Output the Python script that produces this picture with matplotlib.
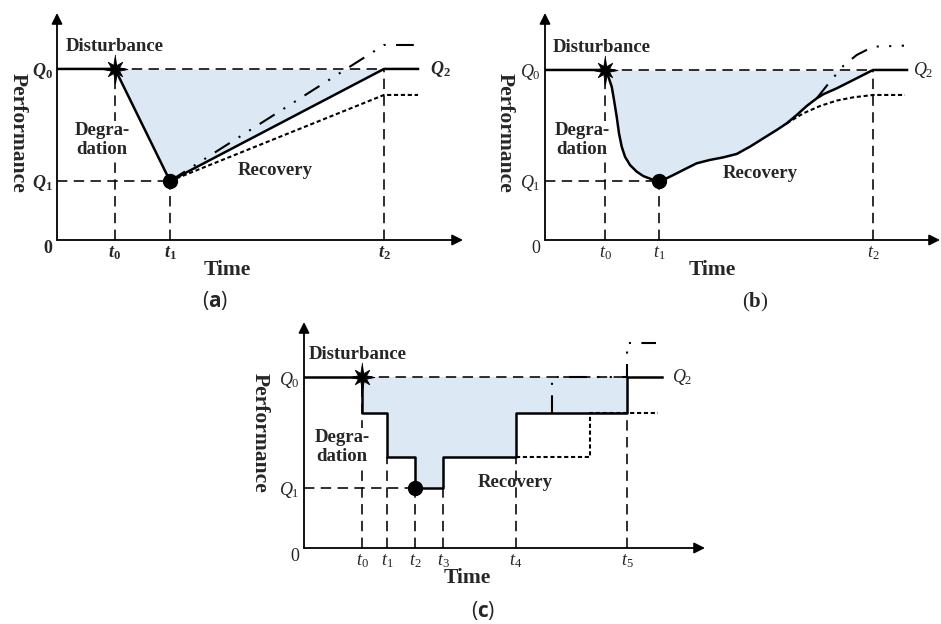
import matplotlib.pyplot as plt
import numpy as np

plt.rcParams['font.family'] = ['Liberation Serif', 'DejaVu Serif']
plt.rcParams['mathtext.fontset'] = 'custom'
plt.rcParams['mathtext.rm'] = 'Liberation Serif'
plt.rcParams['mathtext.it'] = 'Liberation Serif:italic'
plt.rcParams['mathtext.bf'] = 'Liberation Serif:bold'
plt.rcParams['mathtext.bfit'] = 'Liberation Serif:bold:italic'
plt.rcParams['mathtext.sf'] = 'Open Sans:bold'

FILL = '#dce9f4'
TXT = '#262626'

# ---------------- panel (a): linear degradation / recovery ----------------
a_times = [5.8, 11.3, 32.7]              # t0, t1, t2
a_q = [1.0, 0.345]                       # Q0, Q1
a_solid_x = [0, 5.8, 11.3, 32.7, 36.1]
a_solid_y = [1.0, 1.0, 0.345, 1.0, 1.0]
a_over_x = [11.3, 32.7, 36.1]            # recovery above Q0 (dash-dot)
a_over_y = [0.345, 1.14, 1.14]
a_under_x = [11.3, 32.7, 36.1]           # recovery below Q0 (dotted)
a_under_y = [0.345, 0.848, 0.848]

# ---------------- panel (b): curved degradation / recovery ----------------
b_times = [6.0, 11.4, 32.8]
b_q = [1.0, 0.347]
b_curve_x = [0, 6.0, 6.33, 6.67, 6.9, 7.17, 7.4, 7.67, 8.0, 8.5, 9.17, 9.83,
             10.67, 11.4, 12.17, 13.17, 14.17, 15.17, 16.5, 17.83, 19.17,
             20.5, 21.83, 23.17, 24.17, 25.17, 26.17, 27.17, 27.83, 29.17,
             30.83, 32.8, 36.2]
b_curve_y = [1.0, 1.0, 0.961, 0.902, 0.824, 0.725, 0.627, 0.549, 0.49, 0.441,
             0.402, 0.376, 0.357, 0.347, 0.363, 0.392, 0.422, 0.451, 0.471,
             0.486, 0.506, 0.549, 0.598, 0.647, 0.686, 0.735, 0.788, 0.833,
             0.857, 0.892, 0.941, 1.0, 1.0]
b_over_x = [27.17, 28.5, 29.83, 31.17, 32.8, 35.9]
b_over_y = [0.833, 0.931, 1.024, 1.088, 1.137, 1.143]
b_under_x = [24.17, 25.83, 27.5, 29.17, 30.83, 32.8, 36.0]
b_under_y = [0.686, 0.745, 0.788, 0.82, 0.839, 0.853, 0.853]

# ---------------- panel (c): stepwise degradation / recovery ----------------
c_times = [5.8, 8.3, 11.1, 13.9, 21.2, 32.3]   # t0..t5
c_q = [1.0, 0.351]
c_lvl = [0.789, 0.532]                          # intermediate levels
c_step_x = [0, 5.8, 5.8, 8.3, 8.3, 11.1, 11.1, 13.9, 13.9, 21.2, 21.2, 32.3,
            32.3, 35.8]
c_step_y = [1.0, 1.0, 0.789, 0.789, 0.532, 0.532, 0.351, 0.351, 0.532, 0.532,
            0.789, 0.789, 1.0, 1.0]
c_over_x = [24.8, 24.8, 32.3, 32.3, 35.2]
c_over_y = [0.789, 1.0, 1.0, 1.199, 1.199]
c_under_x = [21.2, 28.6, 28.6, 35.4]
c_under_y = [0.532, 0.532, 0.789, 0.789]

DASH = (0, (6.5, 4))
DASHDOT = (0, (8.5, 5, 1, 5, 1, 5))
DOTTED = (0, (2, 1.3))

# spiky 8-point star marker outline
ang = np.linspace(np.pi / 2, np.pi / 2 + 2 * np.pi, 17)[:-1]
rad = np.array([1.0, 0.3, 0.7, 0.3, 0.85, 0.3, 0.7, 0.3] * 2)
STAR = list(zip(rad * np.cos(ang), rad * np.sin(ang)))


def frame(ax, xmax, ymax):
    ax.set_xlim(0, xmax)
    ax.set_ylim(0, ymax)
    for s in ax.spines.values():
        s.set_visible(False)
    ax.set_facecolor('none')
    for xy in [(xmax, 0), (0, ymax)]:
        ax.annotate('', xy=xy, xytext=(0, 0), annotation_clip=False,
                    arrowprops=dict(arrowstyle='-|>', lw=1.3, color='k',
                                    mutation_scale=16, shrinkA=0, shrinkB=0))


def labels(ax, times, qs, bold, q2x, xlab, dist, degr, reco, perf, cap):
    if bold:
        tl = [r'$\mathbfit{t}_{\mathbf{%d}}$' % i for i in range(len(times))]
        ql = [r'$\mathbfit{Q}_{\mathbf{%d}}$' % i for i in range(2)]
        q2 = r'$\mathbfit{Q}_{\mathbf{2}}$'
        zero = r'$\mathbf{0}$'
    else:
        tl = [r'$t_{%d}$' % i for i in range(len(times))]
        ql = [r'$Q_{%d}$' % i for i in range(2)]
        q2 = r'$Q_{2}$'
        zero = '0'
    ax.set_xticks(times, tl)
    ax.set_yticks(qs, ql)
    ax.tick_params(length=0, labelsize=13, pad=3, colors=TXT)
    ax.text(-0.9, -0.05, zero, fontsize=13, color=TXT, ha='center', va='center')
    ax.text(q2x, 1.0, q2, fontsize=13, color=TXT, ha='left', va='center')
    kw = dict(fontsize=13.5, fontweight='bold', color=TXT, ha='center', va='center')
    ax.text(dist[0], dist[1], 'Disturbance', **kw)
    ax.text(degr[0], degr[1], 'Degra-\ndation', linespacing=1.15, zorder=4,
            bbox=dict(facecolor='white', edgecolor='none', pad=0.5), **kw)
    ax.text(reco[0], reco[1], 'Recovery', **kw)
    ax.text(perf[0], perf[1], 'Performance', rotation=270, fontsize=15.5,
            fontweight='bold', color=TXT, ha='center', va='center')
    ax.text(xlab[0], xlab[1], 'Time', fontsize=15.5, fontweight='bold', color=TXT,
            ha='center', va='center')
    ax.text(cap[0], cap[1], cap[2], fontsize=15, color=TXT, ha='center',
            va='center', family=cap[3])


def markers(ax, p_star, p_dot):
    ax.plot(*p_star, marker=STAR, ms=21, mew=0.6, color='k', zorder=6,
            clip_on=False)
    ax.plot(*p_dot, marker='o', ms=10, color='k', zorder=6)


fig = plt.figure(figsize=(9.41, 6.24), dpi=100)
W, H = 941.0, 624.0

# (a)
ax = fig.add_axes([57 / W, (H - 240) / H, 406 / W, 227 / H])
frame(ax, 40.6, 1.327)
t0, t1, t2 = a_times
ax.fill_between(a_solid_x[1:4], a_solid_y[1:4], 1.0, color=FILL, lw=0)
ax.plot([t0, t2], [1, 1], ls=DASH, color='k', lw=1.15)
ax.plot([0, t1], [a_q[1]] * 2, ls=DASH, color='k', lw=1.15)
for t, top in zip(a_times, [1.0, a_q[1], 1.0]):
    ax.plot([t, t], [0, top], ls=DASH, color='k', lw=1.15)
ax.plot(a_over_x, a_over_y, color='k', lw=1.5, ls=DASHDOT)
ax.plot(a_under_x, a_under_y, color='k', lw=1.5, ls=DOTTED)
ax.plot(a_solid_x, a_solid_y, color='k', lw=1.8)
markers(ax, (t0, 1.0), (t1, a_q[1]))
labels(ax, a_times, a_q, True, 37.3, (17.0, -0.175), (5.8, 1.129), (4.5, 0.585),
       (21.8, 0.404), (-3.9, 0.626), (15.8, -0.351, r'($\mathsf{a}$)', 'Open Sans'))

# (b)
ax = fig.add_axes([545 / W, (H - 240) / H, 395 / W, 227 / H])
frame(ax, 39.5, 1.335)
t0, t1, t2 = b_times
ax.fill_between(b_curve_x[1:-1], b_curve_y[1:-1], 1.0, color=FILL, lw=0)
ax.plot([t0, t2], [1, 1], ls=DASH, color='k', lw=1.15)
ax.plot([0, t1], [b_q[1]] * 2, ls=DASH, color='k', lw=1.15)
for t, top in zip(b_times, [1.0, b_q[1], 1.0]):
    ax.plot([t, t], [0, top], ls=DASH, color='k', lw=1.15)
ax.plot(b_over_x, b_over_y, color='k', lw=1.5, ls=DASHDOT)
ax.plot(b_under_x, b_under_y, color='k', lw=1.5, ls=DOTTED)
ax.plot(b_curve_x, b_curve_y, color='k', lw=1.8)
markers(ax, (t0, 1.0), (t1, b_q[1]))
labels(ax, b_times, b_q, False, 36.8, (16.7, -0.176), (5.7, 1.135), (3.7, 0.588),
       (21.5, 0.394), (-4.0, 0.63), (21.0, -0.37, r'($\mathbf{b}$)', 'Liberation Serif'))

# (c)
ax = fig.add_axes([304 / W, (H - 548) / H, 401 / W, 226 / H])
frame(ax, 40.1, 1.322)
ct = c_times
ax.fill_between(c_step_x[1:13], c_step_y[1:13], 1.0, color=FILL, lw=0)
ax.plot([ct[0], ct[5]], [1, 1], ls=DASH, color='k', lw=1.15)
ax.plot([0, ct[2]], [c_q[1]] * 2, ls=DASH, color='k', lw=1.15)
tops = [1.0, c_lvl[1], c_q[1], c_q[1], c_lvl[1], c_lvl[0]]
for t, top in zip(ct, tops):
    ax.plot([t, t], [0, top], ls=DASH, color='k', lw=1.15)
ax.plot(c_over_x, c_over_y, color='k', lw=1.5, ls=DASHDOT)
ax.plot(c_under_x, c_under_y, color='k', lw=1.5, ls=DOTTED)
ax.plot(c_step_x, c_step_y, color='k', lw=1.8)
markers(ax, (ct[0], 1.0), (ct[2], c_q[1]))
labels(ax, ct, c_q, False, 36.8, (16.3, -0.175), (5.4, 1.129), (3.8, 0.59),
       (21.1, 0.386), (-4.4, 0.673), (17.9, -0.363, r'($\mathsf{c}$)', 'Open Sans'))

fig.savefig('out.png', dpi=100)
